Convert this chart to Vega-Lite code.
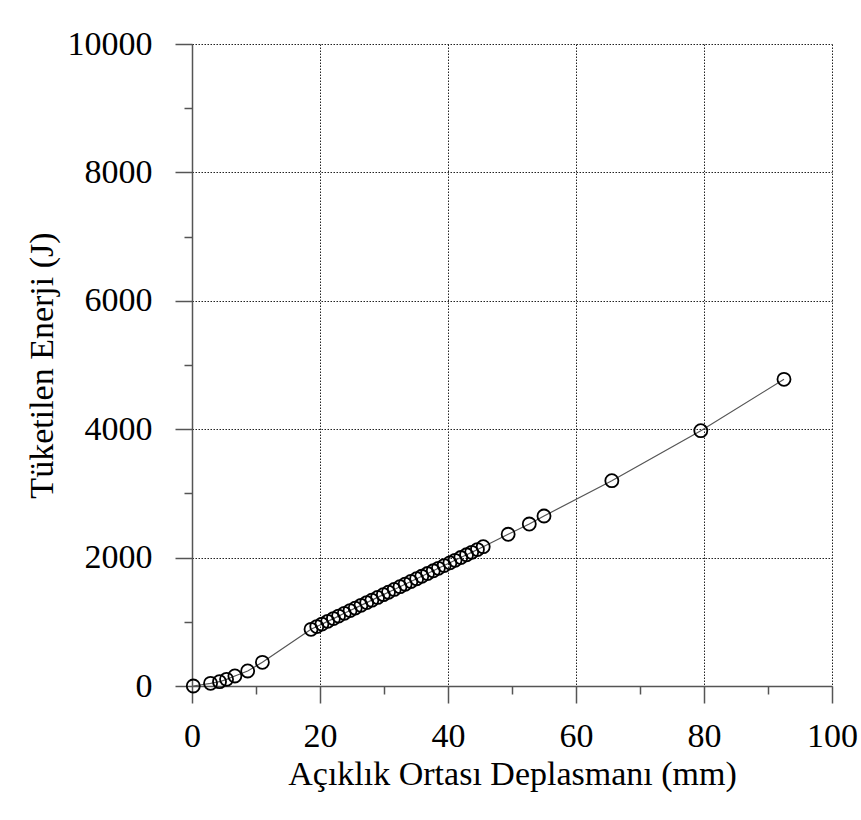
{
  "$schema": "https://vega.github.io/schema/vega-lite/v6.json",
  "width": 640,
  "height": 642,
  "autosize": "none",
  "padding": {"left": 192, "top": 44, "right": 29, "bottom": 134},
  "background": "white",
  "config": {"view": {"stroke": null}, "font": "Liberation Serif"},
  "data": {"values": [
    {"d": 0.2, "e": 0}, {"d": 2.9, "e": 42}, {"d": 4.3, "e": 67}, {"d": 5.4, "e": 104},
    {"d": 6.7, "e": 156}, {"d": 8.7, "e": 234}, {"d": 11.0, "e": 369},
    {"d": 18.6, "e": 883}, {"d": 19.5, "e": 926}, {"d": 20.3, "e": 964}, {"d": 21.2, "e": 1007},
    {"d": 22.1, "e": 1050}, {"d": 22.9, "e": 1089}, {"d": 23.8, "e": 1132}, {"d": 24.7, "e": 1175},
    {"d": 25.5, "e": 1213}, {"d": 26.4, "e": 1256}, {"d": 27.3, "e": 1299}, {"d": 28.1, "e": 1337},
    {"d": 29.0, "e": 1380}, {"d": 29.9, "e": 1423}, {"d": 30.7, "e": 1461}, {"d": 31.6, "e": 1504},
    {"d": 32.5, "e": 1547}, {"d": 33.3, "e": 1585}, {"d": 34.2, "e": 1628}, {"d": 35.1, "e": 1671},
    {"d": 35.9, "e": 1709}, {"d": 36.8, "e": 1752}, {"d": 37.7, "e": 1795}, {"d": 38.5, "e": 1833},
    {"d": 39.4, "e": 1876}, {"d": 40.3, "e": 1919}, {"d": 41.1, "e": 1958}, {"d": 42.0, "e": 2001},
    {"d": 42.9, "e": 2044}, {"d": 43.7, "e": 2082}, {"d": 44.6, "e": 2125}, {"d": 45.5, "e": 2170},
    {"d": 49.4, "e": 2363}, {"d": 52.7, "e": 2523}, {"d": 55.0, "e": 2648}, {"d": 65.6, "e": 3198},
    {"d": 79.5, "e": 3977}, {"d": 92.5, "e": 4777}
  ]},
  "layer": [
    {
      "mark": {"type": "line", "color": "#555", "strokeWidth": 1.2},
      "encoding": {
        "x": {"field": "d", "type": "quantitative", "scale": {"domain": [0, 100], "nice": false},
          "axis": {"orient": "bottom", "values": [10, 30, 50, 70, 90], "labels": false, "domain": false, "grid": false, "tickSize": 8, "tickWidth": 1.5, "tickColor": "#555", "title": null}},
        "y": {"field": "e", "type": "quantitative", "scale": {"domain": [0, 10000], "nice": false},
          "axis": {"orient": "left", "values": [1000, 3000, 5000, 7000, 9000], "labels": false, "domain": false, "grid": false, "tickSize": 8, "tickWidth": 1.5, "tickColor": "#555", "title": null}}
      }
    },
    {
      "mark": {"type": "point", "shape": "circle", "filled": false, "color": "#000", "size": 170, "strokeWidth": 1.8, "opacity": 1},
      "encoding": {
        "x": {"field": "d", "type": "quantitative",
          "axis": {"orient": "bottom", "values": [0, 20, 40, 60, 80, 100], "format": "d", "grid": true, "gridDash": [1.5, 1.5], "gridColor": "#222", "gridWidth": 1,
            "tickSize": 17, "tickWidth": 1.5, "tickColor": "#555", "domainColor": "#555", "domainWidth": 1.5,
            "labelFontSize": 34, "labelColor": "#000", "labelPadding": 16, "labelFlush": false,
            "title": "Açıklık Ortası Deplasmanı (mm)", "titleFontSize": 34, "titleFontWeight": "normal", "titleColor": "#000", "titlePadding": 4}},
        "y": {"field": "e", "type": "quantitative",
          "axis": {"orient": "left", "values": [0, 2000, 4000, 6000, 8000, 10000], "format": "d", "grid": true, "gridDash": [1.5, 1.5], "gridColor": "#222", "gridWidth": 1,
            "tickSize": 17, "tickWidth": 1.5, "tickColor": "#555", "domainColor": "#555", "domainWidth": 1.5,
            "labelFontSize": 34, "labelColor": "#000", "labelPadding": 23, "labelFlush": false,
            "title": "Tüketilen Enerji (J)", "titleFontSize": 34, "titleFontWeight": "normal", "titleColor": "#000", "titlePadding": 8}}
      }
    }
  ],
  "resolve": {"axis": {"x": "independent", "y": "independent"}}
}
